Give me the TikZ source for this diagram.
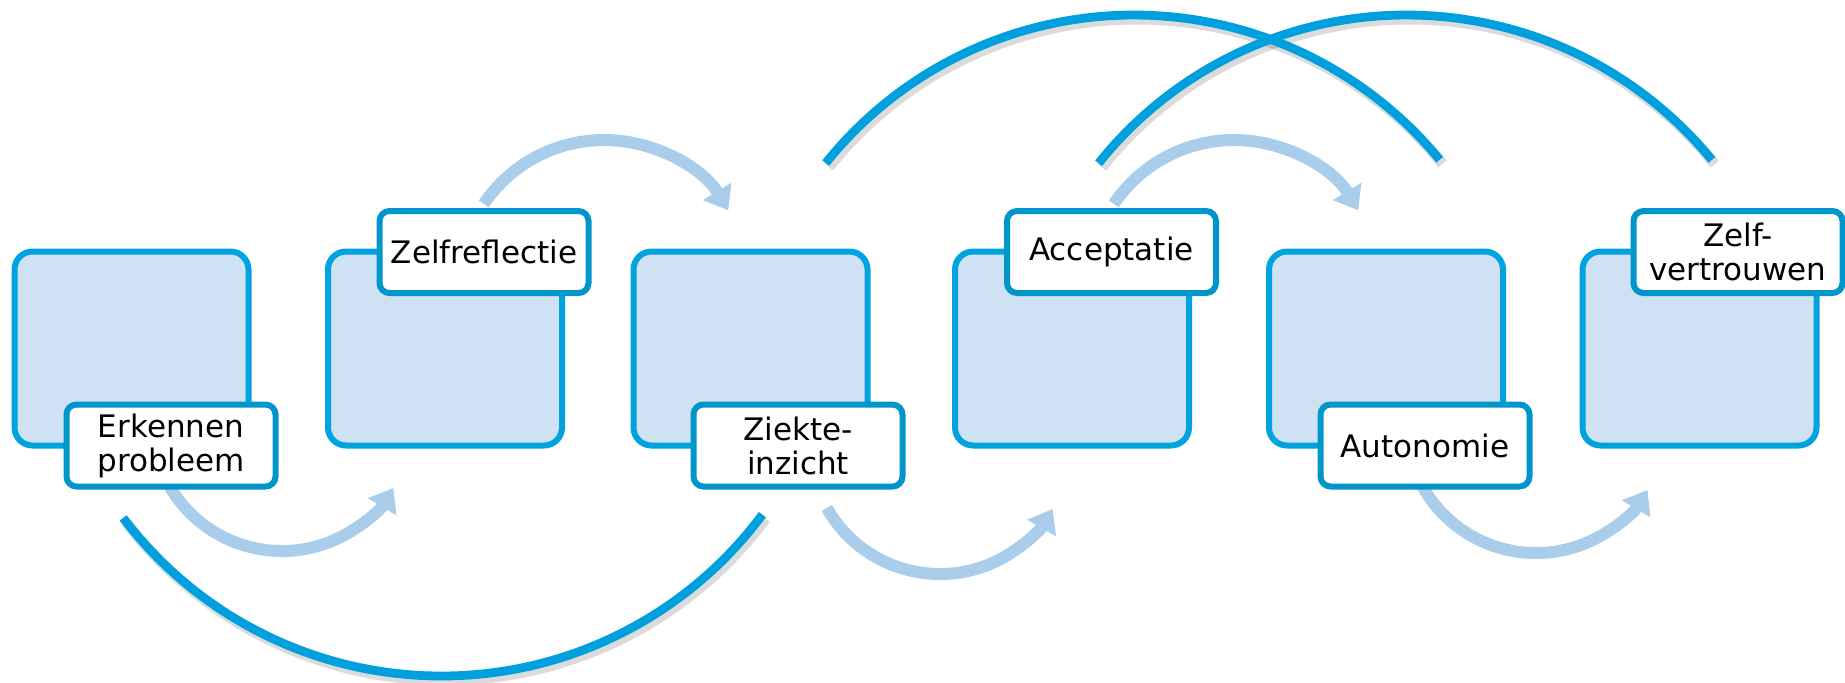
\documentclass[tikz,border=0pt]{standalone}
\usepackage{fontspec}
\newfontfamily\lblfont{DejaVu Sans}
\usetikzlibrary{arrows.meta,calc}
\definecolor{darkblue}{HTML}{00A0DF}
\definecolor{boxblue}{HTML}{00A3E0}
\definecolor{labelblue}{HTML}{0096CC}
\definecolor{boxfill}{HTML}{CFE2F3}
\definecolor{lightarrow}{HTML}{AACDEB}
\begin{document}
\begin{tikzpicture}[x=0.5pt,y=0.5pt,
  stage/.style={draw=boxblue, fill=boxfill, line width=3pt, rounded corners=9pt,
    minimum width=117pt, minimum height=97pt, inner sep=0pt},
  lbl/.style={draw=labelblue, fill=white, line width=3pt, rounded corners=5pt,
    minimum width=104.5pt, minimum height=41pt, inner sep=0pt, align=center,
    font=\lblfont\fontsize{15.5}{17}\selectfont},
  flow/.style={draw=lightarrow, line width=6pt, -{Triangle[width=16pt,length=11pt]}},
  bigarc/.style={draw=darkblue, line width=4.4pt},
  arcshadow/.style={draw=black, opacity=0.14, line width=5.5pt,
    transform canvas={shift={(1.5pt,-2pt)}}}
]
\useasboundingbox (0,0) rectangle (1845,-682);

% centres of the big arcs
\coordinate (t1c) at (1134,-410);
\coordinate (t2c) at (1406.5,-409);
\coordinate (b0c) at (441.5,-276.3);

% shadows of big arcs
\draw[arcshadow] ([shift={(141.3:395)}]t1c) arc[start angle=141.3, end angle=39.3, radius=395];
\draw[arcshadow] ([shift={(141.4:394)}]t2c) arc[start angle=141.4, end angle=39.2, radius=394];
\draw[arcshadow] ([shift={(217.2:399.7)}]b0c) arc[start angle=217.2, end angle=323.4, radius=399.7];

% big arcs
\draw[bigarc] ([shift={(141.3:395)}]t1c) arc[start angle=141.3, end angle=39.3, radius=395];
\draw[bigarc] ([shift={(141.4:394)}]t2c) arc[start angle=141.4, end angle=39.2, radius=394];
\draw[bigarc] ([shift={(217.2:399.7)}]b0c) arc[start angle=217.2, end angle=323.4, radius=399.7];

% stage boxes
\node[stage] (b1) at (131.5,-348.5) {};
\node[stage] (b2) at (445,-348.5) {};
\node[stage] (b3) at (750.5,-348.5) {};
\node[stage] (b4) at (1072,-348.5) {};
\node[stage] (b5) at (1386,-348.5) {};
\node[stage] (b6) at (1699.5,-348.5) {};

% flow arrows
\coordinate (a1c) at (604,-285);
\coordinate (a2c) at (1234,-285);
\coordinate (f1c) at (282,-421);
\coordinate (f2c) at (940,-444);
\coordinate (f3c) at (1536,-423);
\draw[flow] ([shift={(146:145)}]a1c) arc[start angle=146, end angle=31, radius=145];
\draw[flow] ([shift={(146:145)}]a2c) arc[start angle=146, end angle=31, radius=145];
\draw[flow] ([shift={(205:130)}]f1c) arc[start angle=205, end angle=329, radius=130];
\draw[flow] ([shift={(209.5:130)}]f2c) arc[start angle=209.5, end angle=330, radius=130];
\draw[flow] ([shift={(205:130)}]f3c) arc[start angle=205, end angle=329, radius=130];

% labels
\node[lbl] (l1) at (171,-445.5) {Erkennen\\probleem};
\node[lbl] (l2) at (484,-252) {Zelfreflectie};
\node[lbl] (l3) at (798,-445.5) {Ziekte-\\inzicht};
\node[lbl] (l4) at (1111.5,-252) {Acceptatie};
\node[lbl] (l5) at (1425,-445.5) {Autonomie};
\node[lbl] (l6) at (1738,-252) {Zelf-\\vertrouwen};
\end{tikzpicture}
\end{document}
